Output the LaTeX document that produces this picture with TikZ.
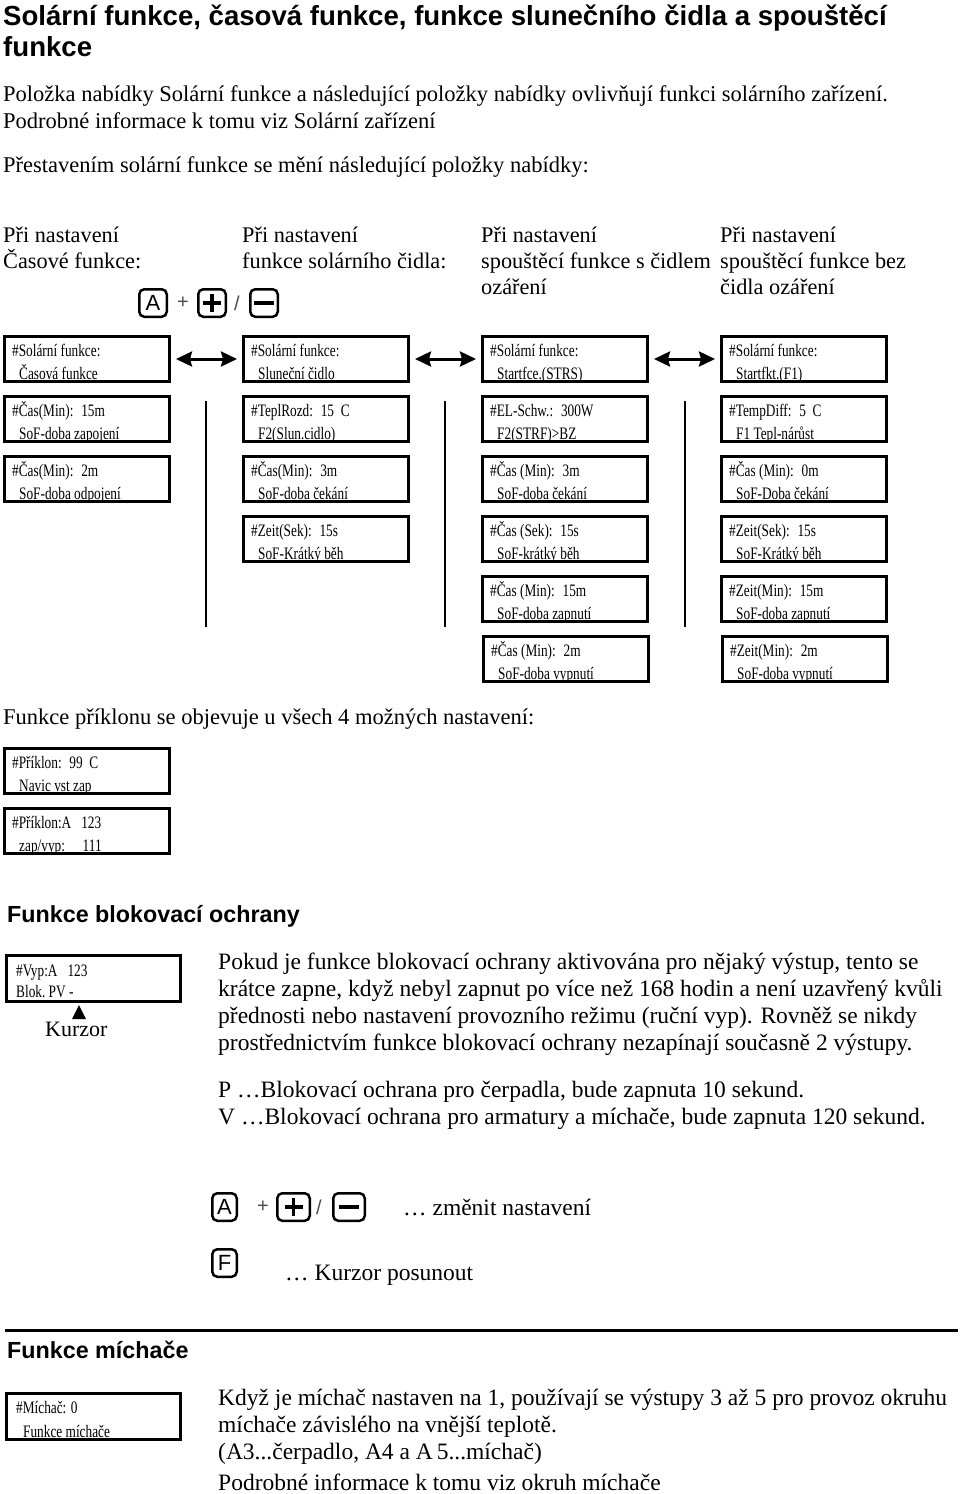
\documentclass[tikz,border=0pt]{standalone}
\usepackage{fontspec}
\setmainfont{Liberation Serif}
\newfontfamily\headfont{Liberation Sans}
\newfontfamily\lcdfont[FakeStretch=0.76]{Liberation Serif}
\usepackage{tikz}
\usetikzlibrary{arrows.meta,positioning}

\tikzset{
  heading/.style={anchor=base west, inner sep=0pt, align=left, font=\headfont\bfseries\fontsize{23.3}{31}\selectfont},
  bodytext/.style={anchor=base west, inner sep=0pt, align=left, font=\fontsize{22.5}{27}\selectfont},
  lowertext/.style={anchor=base west, inner sep=0pt, align=left, font=\fontsize{23.5}{27}\selectfont},
  colhead/.style={anchor=base west, inner sep=0pt, align=left, font=\fontsize{22.3}{26}\selectfont},
  lcdbox/.style={draw, line width=3pt, minimum width=165pt, minimum height=45pt, inner sep=0pt},
  lcdline/.style={anchor=base west, inner sep=0pt, font=\lcdfont\fontsize{17.5}{20}\selectfont},
  keybox/.style={draw, line width=2.5pt, rounded corners=5pt, minimum width=27.5pt, minimum height=27.5pt, inner sep=0pt, font=\headfont\fontsize{22}{22}\selectfont},
  keysign/.style={inner sep=0pt, text=black!70, font=\headfont\fontsize{20}{20}\selectfont},
  swaparrow/.style={{Stealth[length=16pt,width=15pt,inset=2pt]}-{Stealth[length=16pt,width=15pt,inset=2pt]}, line width=3pt, shorten <=5pt, shorten >=5pt},
  divider/.style={line width=2pt},
}

% display panel: name, centre x, centre y, upper line, lower line
\newcommand{\lcdpanel}[5]{%
  \node[lcdline] (#1a) at (#2-75,#3-3) {#4};
  \node[lcdline] (#1b) at (#2-68,#3+20) {#5};
  \node[lcdbox] (#1) at (#2,#3) {};
}

\begin{document}
\begin{tikzpicture}[x=1pt,y=-1pt]
    \useasboundingbox (0,0) rectangle (960,1494);

    % Title and intro (multi-line nodes sit on their last baseline)
    \node[heading, font=\headfont\bfseries\fontsize{27.6}{31}\selectfont] (title) at (3,56) {Solární funkce, časová funkce, funkce slunečního čidla a spouštěcí\\funkce};
    \node[bodytext] (intro) at (3,128) {Položka nabídky Solární funkce a následující položky nabídky ovlivňují funkci solárního zařízení.\\Podrobné informace k tomu viz Solární zařízení};
    \node[bodytext] (change) at (3,172) {Přestavením solární funkce se mění následující položky nabídky:};

    % Column heads
    \node[colhead] (head1) at (3,268) {Při nastavení\\Časové funkce:};
    \node[colhead] (head2) at (242,268) {Při nastavení\\funkce solárního čidla:};
    \node[colhead] (head3) at (481,294) {Při nastavení\\spouštěcí funkce s čidlem\\ozáření};
    \node[colhead] (head4) at (720,294) {Při nastavení\\spouštěcí funkce bez\\čidla ozáření};

    % Keys
    \node[keybox] (keyA) at (153,303) {A};
    \node[keysign] (plusA) at (183,303) {+};
    \node[keybox] (keyPlus) at (212,303) {};
    \node[keysign] (slashA) at (237,303) {/};
    \node[keybox] (keyMinus) at (264,303) {};
    \draw[line width=3.5pt] ([xshift=-9pt]keyPlus.center) -- ([xshift=9pt]keyPlus.center)
        ([yshift=-9pt]keyPlus.center) -- ([yshift=9pt]keyPlus.center);
    \draw[line width=3.5pt] ([xshift=-10pt]keyMinus.center) -- ([xshift=10pt]keyMinus.center);

    % Time function
    \lcdpanel{t1}{87}{359}{\#Solární funkce:}{Časová funkce}
    \lcdpanel{t2}{87}{419}{\#Čas(Min):~ 15m}{SoF-doba zapojení}
    \lcdpanel{t3}{87}{479}{\#Čas(Min):~ 2m}{SoF-doba odpojení}

    % Solar sensor
    \lcdpanel{s1}{326}{359}{\#Solární funkce:}{Sluneční čidlo}
    \lcdpanel{s2}{326}{419}{\#TeplRozd:~ 15~ C}{F2(Slun.cidlo)}
    \lcdpanel{s3}{326}{479}{\#Čas(Min):~ 3m}{SoF-doba čekání}
    \lcdpanel{s4}{326}{539}{\#Zeit(Sek):~ 15s}{SoF-Krátký běh}

    % Start function with sensor
    \lcdpanel{r1}{565}{359}{\#Solární funkce:}{Startfce.(STRS)}
    \lcdpanel{r2}{565}{419}{\#EL-Schw.:~ 300W}{F2(STRF)>BZ}
    \lcdpanel{r3}{565}{479}{\#Čas (Min):~ 3m}{SoF-doba čekání}
    \lcdpanel{r4}{565}{539}{\#Čas (Sek):~ 15s}{SoF-krátký běh}
    \lcdpanel{r5}{565}{599}{\#Čas (Min):~ 15m}{SoF-doba zapnutí}
    \lcdpanel{r6}{566}{659}{\#Čas (Min):~ 2m}{SoF-doba vypnutí}

    % Start function without sensor
    \lcdpanel{f1}{804}{359}{\#Solární funkce:}{Startfkt.(F1)}
    \lcdpanel{f2}{804}{419}{\#TempDiff:~ 5~ C}{F1 Tepl-nárůst}
    \lcdpanel{f3}{804}{479}{\#Čas (Min):~ 0m}{SoF-Doba čekání}
    \lcdpanel{f4}{804}{539}{\#Zeit(Sek):~ 15s}{SoF-Krátký běh}
    \lcdpanel{f5}{804}{599}{\#Zeit(Min):~ 15m}{SoF-doba zapnutí}
    \lcdpanel{f6}{805}{659}{\#Zeit(Min):~ 2m}{SoF-doba vypnutí}

    % Switching between settings
    \draw[swaparrow] (t1) -- (s1);
    \draw[swaparrow] (s1) -- (r1);
    \draw[swaparrow] (r1) -- (f1);
    \draw[divider] (206,401) -- (206,627);
    \draw[divider] (445,401) -- (445,627);
    \draw[divider] (685,401) -- (685,627);

    % Tilt function
    \node[bodytext] (tilt) at (3,724) {Funkce příklonu se objevuje u všech 4 možných nastavení:};
    \lcdpanel{p1}{87}{771}{\#Příklon:~ 99~ C}{Navic vst zap}
    \lcdpanel{p2}{87}{831}{\#Příklon:A~~ 123}{zap/vyp:~~~~ 111}

    % Blocking protection
    \node[heading] (blockhead) at (7,922) {Funkce blokovací ochrany};
    \node[lcdline] (vypa) at (16,976) {\#Vyp:A~~ 123};
    \node[lcdline] (vypb) at (16,997) {Blok.~PV -};
    \node[lcdbox, minimum width=174pt, minimum height=46pt] (vyp) at (93.5,978.5) {};
    \fill (72,1019) -- (79,1005) -- (86,1019) -- cycle;
    \node[bodytext, font=\fontsize{22}{27}\selectfont] (cursor) at (45,1036) {Kurzor};
    \node[lowertext] (blocktext) at (218,1050) {Pokud je funkce blokovací ochrany aktivována pro nějaký výstup, tento se\\krátce zapne, když nebyl zapnut po více než 168 hodin a není uzavřený kvůli\\přednosti nebo nastavení provozního režimu (ruční vyp). Rovněž se nikdy\\prostřednictvím funkce blokovací ochrany nezapínají současně 2 výstupy.};
    \node[lowertext] (pvtext) at (218,1124) {P …Blokovací ochrana pro čerpadla, bude zapnuta 10 sekund.\\V …Blokovací ochrana pro armatury a míchače, bude zapnuta 120 sekund.};

    % Keys legend
    \node[keybox, minimum width=24.5pt] (keyA2) at (224.5,1207) {A};
    \node[keysign] (plusB) at (263,1207) {+};
    \node[keybox, minimum width=32.5pt] (keyPlus2) at (293.5,1207) {};
    \node[keysign] (slashB) at (319,1207) {/};
    \node[keybox, minimum width=31.5pt] (keyMinus2) at (349,1207) {};
    \draw[line width=3.5pt] ([xshift=-9pt]keyPlus2.center) -- ([xshift=9pt]keyPlus2.center)
        ([yshift=-9pt]keyPlus2.center) -- ([yshift=9pt]keyPlus2.center);
    \draw[line width=3.5pt] ([xshift=-10pt]keyMinus2.center) -- ([xshift=10pt]keyMinus2.center);
    \node[lowertext] (changeset) at (403,1215) {… změnit nastavení};
    \node[keybox, minimum width=24.5pt] (keyF) at (224.5,1263) {F};
    \node[lowertext] (movecursor) at (285,1280) {… Kurzor posunout};

    % Mixer function
    \draw[line width=3pt] (5,1330) -- (958,1330);
    \node[heading] (mixhead) at (7,1358) {Funkce míchače};
    \node[lcdline] (mixa) at (16,1413) {\#Míchač: 0};
    \node[lcdline] (mixb) at (23,1437) {Funkce míchače};
    \node[lcdbox, minimum width=174pt, minimum height=46pt] (mix) at (93.5,1416.5) {};
    \node[lowertext] (mixtext) at (218,1459) {Když je míchač nastaven na 1, používají se výstupy 3 až 5 pro provoz okruhu\\míchače závislého na vnější teplotě.\\(A3...čerpadlo, A4 a A\,5...míchač)};
    \node[lowertext] (mixmore) at (218,1490) {Podrobné informace k tomu viz okruh míchače};
\end{tikzpicture}
\end{document}
